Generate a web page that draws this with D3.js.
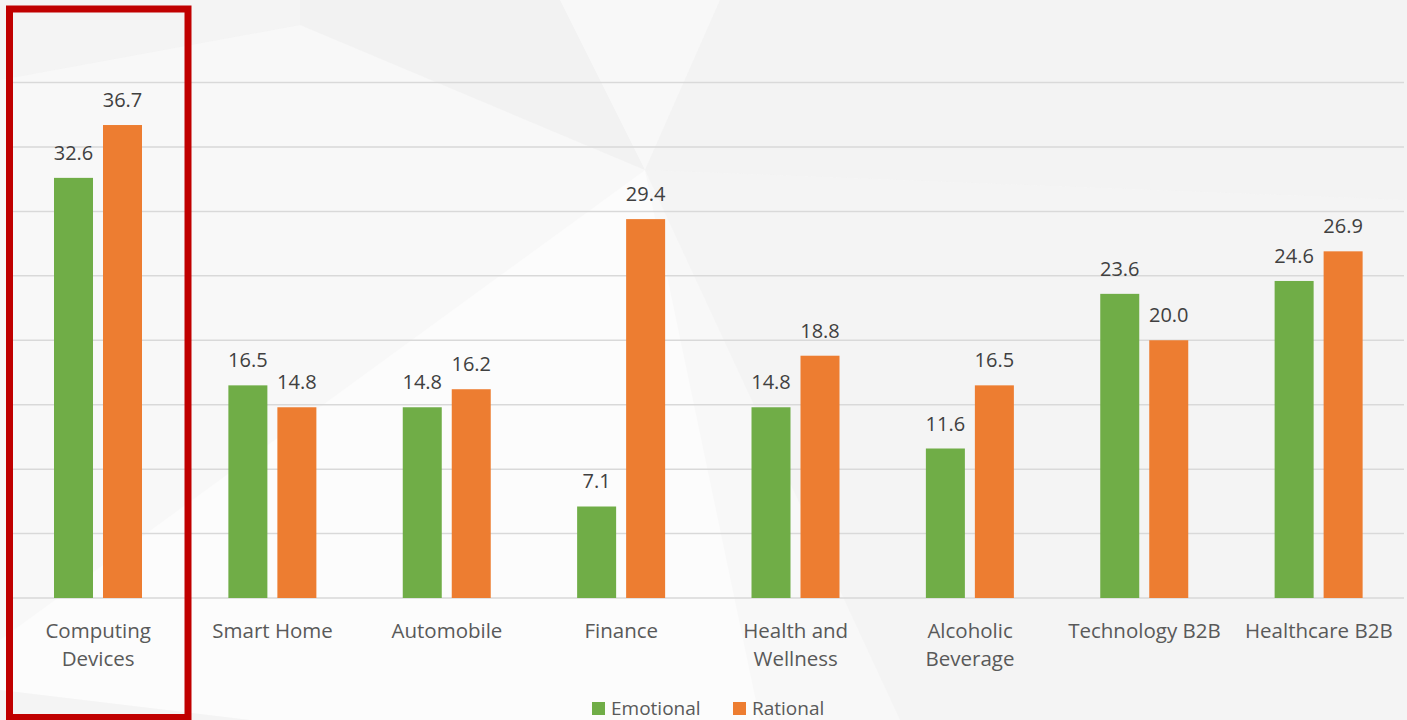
<!DOCTYPE html>
<html>
<head>
<meta charset="utf-8">
<script src="https://cdn.jsdelivr.net/npm/d3@7"></script>
<style>
  body { margin: 0; background: #f7f7f7; }
  svg { display: block; }
</style>
</head>
<body>
<div id="chart"></div>
<script>
const categories = ['Computing Devices', 'Smart Home', 'Automobile', 'Finance', 'Health and Wellness', 'Alcoholic Beverage', 'Technology B2B', 'Healthcare B2B'];
const categoryLines = [['Computing', 'Devices'], ['Smart Home'], ['Automobile'], ['Finance'], ['Health and', 'Wellness'], ['Alcoholic', 'Beverage'], ['Technology B2B'], ['Healthcare B2B']];
const seriesNames = ['Emotional', 'Rational'];
const emotional = [32.6, 16.5, 14.8, 7.1, 14.8, 11.6, 23.6, 24.6];
const rational = [36.7, 14.8, 16.2, 29.4, 18.8, 16.5, 20.0, 26.9];
const yTicks = [0, 5, 10, 15, 20, 25, 30, 35, 40];
const colors = ['#70ad47', '#ed7d31'];

const w = 1407;
const h = 720;

const svg = d3.select('#chart')
  .append('svg')
  .attr('width', w)
  .attr('height', h)
  .style('font-family', '"Open Sans", sans-serif');

// background: near white with faint grey facets
svg.append('rect').attr('width', w).attr('height', h).attr('fill', '#f8f8f8');
const bg = svg.append('g');
bg.append('polygon').attr('points', '300,25 645,170 560,0 300,0').attr('fill', '#efefef').attr('opacity', 0.6);
bg.append('polygon').attr('points', '720,0 1407,0 1407,200 645,170').attr('fill', '#efefef').attr('opacity', 0.55);
bg.append('polygon').attr('points', '645,170 1407,200 1407,720 900,720').attr('fill', '#f1f1f1').attr('opacity', 0.6);
bg.append('polygon').attr('points', '0,0 300,0 300,25 0,80').attr('fill', '#f0f0f0').attr('opacity', 0.5);
bg.append('polygon').attr('points', '0,640 645,170 760,720 0,720').attr('fill', '#ffffff').attr('opacity', 0.5);
bg.append('polygon').attr('points', '0,690 250,720 0,720').attr('fill', '#eeeeee').attr('opacity', 0.6);

const x0 = d3.scaleBand()
  .domain(categories)
  .range([11, 1406])
  .padding(0);

const x1 = d3.scaleBand()
  .domain(seriesNames)
  .range([43, 131])
  .paddingInner(0.204);

const y = d3.scaleLinear()
  .domain([0, 40])
  .range([598, 82.5]);

// gridlines
svg.append('g')
  .selectAll('line')
  .data(yTicks)
  .enter()
  .append('line')
  .attr('x1', 11)
  .attr('x2', 1404)
  .attr('y1', d => y(d))
  .attr('y2', d => y(d))
  .attr('stroke', '#d9d9d9')
  .attr('stroke-width', 1.5);

const rows = categories.map((c, i) => ({ cat: c, vals: [emotional[i], rational[i]] }));

const groups = svg.selectAll('.grp')
  .data(rows)
  .enter()
  .append('g')
  .attr('class', 'grp')
  .attr('transform', d => 'translate(' + x0(d.cat) + ',0)');

groups.selectAll('rect')
  .data(d => d.vals.map((v, j) => ({ key: seriesNames[j], v: v, j: j })))
  .enter()
  .append('rect')
  .attr('x', d => x1(d.key))
  .attr('y', d => y(d.v))
  .attr('width', x1.bandwidth())
  .attr('height', d => y(0) - y(d.v))
  .attr('fill', d => colors[d.j]);

groups.selectAll('.val')
  .data(d => d.vals.map((v, j) => ({ key: seriesNames[j], v: v })))
  .enter()
  .append('text')
  .attr('class', 'val')
  .attr('x', d => x1(d.key) + x1.bandwidth() / 2)
  .attr('y', d => y(d.v) - 18)
  .attr('text-anchor', 'middle')
  .attr('font-size', 20)
  .attr('fill', '#404040')
  .text(d => d.v.toFixed(1));

// category labels
categoryLines.forEach((lines, i) => {
  const cx = x0(categories[i]) + x0.bandwidth() / 2;
  const t = svg.append('text')
    .attr('x', cx)
    .attr('y', 638)
    .attr('text-anchor', 'middle')
    .attr('font-size', 20.5)
    .attr('fill', '#595959');
  lines.forEach((s, k) => {
    t.append('tspan')
      .attr('x', cx)
      .attr('dy', k === 0 ? 0 : 28)
      .text(s);
  });
});

// legend
const legendX = [592, 733];
seriesNames.forEach((s, i) => {
  svg.append('rect')
    .attr('x', legendX[i])
    .attr('y', 702)
    .attr('width', 13)
    .attr('height', 13)
    .attr('fill', colors[i]);
  svg.append('text')
    .attr('x', legendX[i] + 19)
    .attr('y', 715)
    .attr('font-size', 19)
    .attr('fill', '#595959')
    .text(s);
});

// highlight box
svg.append('rect')
  .attr('x', 9.5)
  .attr('y', 9)
  .attr('width', 178.5)
  .attr('height', 708.5)
  .attr('fill', 'none')
  .attr('stroke', '#c00000')
  .attr('stroke-width', 7);
</script>
</body>
</html>
